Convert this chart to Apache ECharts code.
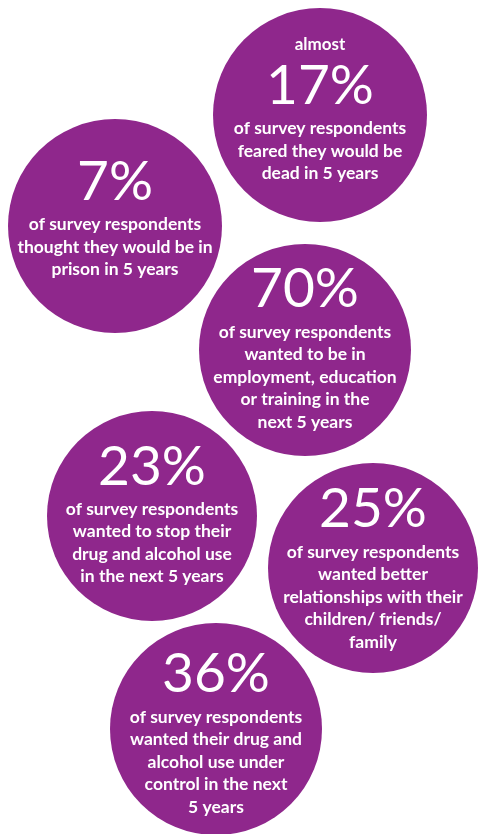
<!DOCTYPE html>
<html>
<head>
<meta charset="utf-8">
<script src="https://cdn.jsdelivr.net/npm/echarts@6/dist/echarts.min.js"></script>
<style>
html,body{margin:0;padding:0;background:#fff;}
#chart{width:478px;height:834px;}
</style>
</head>
<body>
<div id="chart"></div>
<script>
// ---- data ----
const prefixes = ['almost', '', '', '', '', ''];
const percentages = [17, 7, 70, 23, 25, 36];
const captions = [
  ['of survey respondents', 'feared they would be', 'dead in 5 years'],
  ['of survey respondents', 'thought they would be in', 'prison in 5 years'],
  ['of survey respondents', 'wanted to be in', 'employment, education', 'or training in the', 'next 5 years'],
  ['of survey respondents', 'wanted to stop their', 'drug and alcohol use', 'in the next 5 years'],
  ['of survey respondents', 'wanted better', 'relationships with their', 'children/ friends/', 'family'],
  ['of survey respondents', 'wanted their drug and', 'alcohol use under', 'control in the next', '5 years']
];

// ---- layout (bubble placement: centre x, centre y, radius, label vertical nudge; px) ----
const layout = [
  [320, 115, 107, -8],
  [115, 226, 107, -8],
  [305, 350, 106, -2],
  [152, 516, 105, -2],
  [373, 568, 105, 0],
  [216, 729, 106, 4]
];

const PURPLE = '#8f278c';

const seriesData = percentages.map((v, i) => {
  let txt = '';
  if (prefixes[i]) txt += '{pre|' + prefixes[i] + '}\n';
  txt += '{num|' + v + '%}\n';
  txt += captions[i].map(l => '{txt|' + l + '}').join('\n');
  return {
    value: [layout[i][0], layout[i][1]],
    symbolSize: layout[i][2] * 2,
    label: { formatter: txt, offset: [0, layout[i][3]] }
  };
});

const chart = echarts.init(document.getElementById('chart'), null, { renderer: 'canvas' });
chart.setOption({
  animation: false,
  backgroundColor: '#ffffff',
  grid: { left: 0, right: 0, top: 0, bottom: 0 },
  xAxis: { type: 'value', min: 0, max: 478, show: false },
  yAxis: { type: 'value', min: 0, max: 834, inverse: true, show: false },
  series: [{
    type: 'scatter',
    symbol: 'circle',
    itemStyle: { color: PURPLE, opacity: 1 },
    emphasis: { disabled: true },
    data: seriesData,
    label: {
      show: true,
      position: 'inside',
      color: '#ffffff',
      align: 'center',
      verticalAlign: 'middle',
      fontFamily: 'Lato',
      rich: {
        pre: { fontFamily: 'Lato', fontWeight: 'bold', fontSize: 17, lineHeight: 30, color: '#fff', align: 'center' },
        num: { fontFamily: 'Lato', fontWeight: 'normal', fontSize: 55, lineHeight: 58, color: '#fff', align: 'center', padding: [0, 0, 4, 0] },
        txt: { fontFamily: 'Lato', fontWeight: 'bold', fontSize: 17.5, lineHeight: 22.5, color: '#fff', align: 'center' }
      }
    }
  }]
});
</script>
</body>
</html>
